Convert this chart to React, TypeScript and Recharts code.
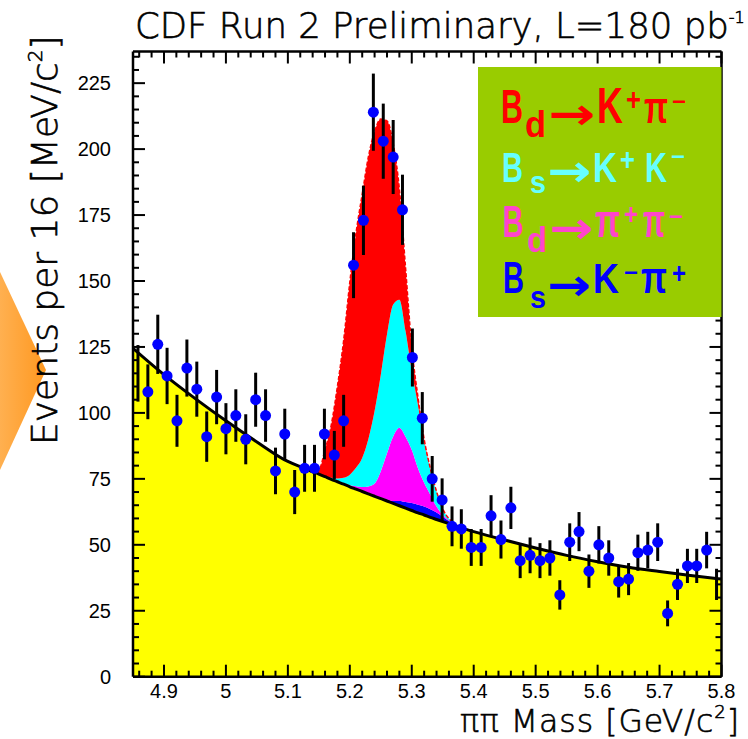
import React from 'react';
import { ComposedChart, Area, Line, Scatter, ErrorBar, XAxis, YAxis } from 'recharts';

// bin centres, 60 bins between 4.85 and 5.80 GeV/c^2
const binMass = [
  4.858, 4.874, 4.890, 4.905, 4.921, 4.937, 4.953, 4.969, 4.985, 5.000,
  5.016, 5.032, 5.048, 5.064, 5.080, 5.095, 5.111, 5.127, 5.143, 5.159,
  5.175, 5.190, 5.206, 5.222, 5.238, 5.254, 5.270, 5.285, 5.301, 5.317,
  5.333, 5.349, 5.365, 5.380, 5.396, 5.412, 5.428, 5.444, 5.460, 5.475,
  5.491, 5.507, 5.523, 5.539, 5.555, 5.570, 5.586, 5.602, 5.618, 5.634,
  5.650, 5.665, 5.681, 5.697, 5.713, 5.729, 5.745, 5.760, 5.776, 5.792,
];

const binCounts = [
  115, 108, 126, 114, 97, 117, 109, 91, 106, 94,
  99, 90, 105, 99, 78, 92, 70, 79, 79, 92,
  84, 97, 156, 173, 214, 203, 197, 177, 121, 98,
  75, 67, 57, 56, 49, 49, 61, 52, 64, 44,
  46, 44, 45, 31, 51, 55, 40, 50, 45, 36,
  37, 47, 48, 51, 24, 35, 42, 42, 48, 35,
];

// fit components
const fitMass = [
  4.85, 4.9, 4.95, 5.0, 5.05, 5.1, 5.12,
  5.14, 5.15, 5.16, 5.17, 5.18, 5.19, 5.2, 5.21, 5.22, 5.23, 5.24, 5.25, 5.26,
  5.27, 5.28, 5.29, 5.3, 5.31, 5.32, 5.33, 5.34, 5.35, 5.36, 5.37, 5.38,
  5.4, 5.45, 5.5, 5.55, 5.6, 5.65, 5.7, 5.75, 5.8,
];
const fitBackground = [
  124.5, 114.5, 105.5, 97, 89, 81.6, 79.6,
  77.7, 76.8, 75.8, 74.8, 73.9, 73.0, 72.0, 71.1, 70.2, 69.3, 68.4, 67.5, 66.6,
  65.7, 64.8, 63.9, 63.0, 62.1, 61.3, 60.4, 59.6, 58.8, 58.0, 57.2, 56.4,
  55.0, 51.8, 48.8, 46.0, 43.6, 41.5, 39.9, 38.4, 37.0,
];
const fitBsKpi = [
  0, 0, 0, 0, 0, 0, 0,
  0, 0, 0, 0, 0, 0, 0, 0.1, 0.1, 0.2, 0.3, 0.4, 0.6,
  0.9, 1.8, 2.3, 2.8, 3.1, 3.2, 3.1, 2.6, 1.8, 1.0, 0.4, 0.1,
  0, 0, 0, 0, 0, 0, 0, 0, 0,
];
const fitBdPipi = [
  0, 0, 0, 0, 0, 0, 0,
  0, 0, 0, 0.1, 0.2, 0.4, 0.6, 1.0, 1.6, 2.6, 4.5, 10, 17.5,
  24.5, 27.8, 24.8, 20.2, 13.8, 9, 5.5, 2.3, 0.8, 0.3, 0.1, 0,
  0, 0, 0, 0, 0, 0, 0, 0, 0,
];
const fitBsKK = [
  0, 0, 0, 0, 0, 0, 0,
  0, 0.1, 0.2, 0.5, 1.0, 2.0, 4.0, 7, 11, 18, 27.5, 36.5, 45,
  50, 48.5, 40, 30, 24, 15.5, 9.5, 5.5, 2.2, 0.6, 0.1, 0,
  0, 0, 0, 0, 0, 0, 0, 0, 0,
];
const fitBdKpi = [
  0, 0, 0, 0, 0, 0, 0,
  0, 1.5, 10, 20, 35, 52, 73, 89, 100, 107, 106, 97, 81,
  61, 42, 24, 9, 3, 1, 0.5, 0.2, 0, 0, 0, 0,
  0, 0, 0, 0, 0, 0, 0, 0, 0,
];

const xMajorTicks = [4.9, 5, 5.1, 5.2, 5.3, 5.4, 5.5, 5.6, 5.7, 5.8];
const yMajorTicks = [0, 25, 50, 75, 100, 125, 150, 175, 200, 225];

const xTicks: number[] = [];
for (let k = 486; k <= 580; k += 2) xTicks.push(k / 100);
const yTicks: number[] = [];
for (let v = 0; v <= 235; v += 5) yTicks.push(v);

// poisson errors on the counts
const points = binMass.map((m, i) => ({
  m,
  n: binCounts[i],
  err: Math.sqrt(binCounts[i]),
  edge: i === 0 || i === binMass.length - 1,
}));
const innerPoints = points.filter((p) => !p.edge);
const edgePoints = points.filter((p) => p.edge);

const fitData = fitMass.map((m, i) => ({
  m,
  bkg: fitBackground[i],
  bsKpi: fitBsKpi[i],
  bdPipi: fitBdPipi[i],
  bsKK: fitBsKK[i],
  bdKpi: fitBdKpi[i],
}));

const W = 748;
const H = 739;
const PL = 133;
const PR = 721.5;
const PT = 51.5;
const PB = 676.7;

const tickFont = "'Liberation Sans', Arial, sans-serif";
const labelFont = "'DejaVu Sans', sans-serif";
const legendFont = "'Liberation Sans Narrow', 'Liberation Sans', sans-serif";

const isMajor = (v: number, majors: number[]) => majors.some((t) => Math.abs(t - v) < 1e-6);

function BottomTick(props: any) {
  const x = props.payload.coordinate;
  const v = props.payload.value;
  const major = isMajor(v, xMajorTicks);
  return (
    <g>
      <line x1={x} x2={x} y1={PB} y2={PB - (major ? 12 : 6)} stroke="#000" strokeWidth={2} />
      {major && (
        <text x={x} y={697.8} textAnchor="middle" fontSize={20} fontFamily={tickFont} fill="#000">
          {String(v)}
        </text>
      )}
    </g>
  );
}

function TopTick(props: any) {
  const x = props.payload.coordinate;
  const major = isMajor(props.payload.value, xMajorTicks);
  return <line x1={x} x2={x} y1={PT} y2={PT + (major ? 12 : 6)} stroke="#000" strokeWidth={2} />;
}

function LeftTick(props: any) {
  const y = props.payload.coordinate;
  const v = props.payload.value;
  const major = isMajor(v, yMajorTicks);
  return (
    <g>
      <line x1={PL} x2={PL + (major ? 12 : 6)} y1={y} y2={y} stroke="#000" strokeWidth={2} />
      {major && (
        <text x={111} y={y} dy="0.35em" textAnchor="end" fontSize={20} fontFamily={tickFont} fill="#000">
          {String(v)}
        </text>
      )}
    </g>
  );
}

function RightTick(props: any) {
  const y = props.payload.coordinate;
  const major = isMajor(props.payload.value, yMajorTicks);
  return <line x1={PR} x2={PR - (major ? 12 : 6)} y1={y} y2={y} stroke="#000" strokeWidth={2} />;
}

const dot = (p: any) => <circle cx={p.cx} cy={p.cy} r={5.5} fill="#0000ff" />;
const noDot = () => <g />;

// legend glyphs: each piece sits at its own x/baseline, stretched upwards by sy
type Piece = { t: string; x: number; w: number; y: number; size: number; sy: number; arrow?: boolean };

const txt = (t: string, x: number, w: number, y: number, size: number, sy: number): Piece => ({ t, x, w, y, size, sy });
const sup = (t: string, x: number, w: number, mid: number, size: number, sy: number): Piece => ({
  t, x, w, y: mid + 0.35 * size * sy, size, sy,
});
const arrow = (x: number, w: number, mid: number): Piece => ({ t: '→', x, w, y: mid + 15.4, size: 44, sy: 1, arrow: true });

function LegendRow({ color, pieces }: { color: string; pieces: Piece[] }) {
  return (
    <g fill={color} fontWeight="bold">
      {pieces.map((p, i) => (
        <text
          key={i}
          transform={`translate(${p.x},${p.y}) scale(1,${p.sy})`}
          fontSize={p.size}
          fontFamily={p.arrow ? "'DejaVu Sans', sans-serif" : legendFont}
          textLength={p.w}
          lengthAdjust="spacingAndGlyphs"
        >
          {p.t}
        </text>
      ))}
    </g>
  );
}

export default function App() {
  const axisLine = { stroke: '#000', strokeWidth: 2.5 };
  const labelStyle = { fontFamily: labelFont, fontWeight: 300, fill: '#000', stroke: '#000', strokeWidth: 0.6 };
  return (
    <div style={{ position: 'absolute', left: 0, top: 0, width: W, height: H, background: '#fff' }}>
      <ComposedChart
        width={W}
        height={H}
        data={fitData}
        margin={{ top: PT - 1, right: W - PR - 1, bottom: H - PB - 1, left: PL - 1 }}
      >
        <XAxis
          dataKey="m"
          type="number"
          domain={[4.85, 5.8]}
          allowDataOverflow
          ticks={xTicks}
          interval={0}
          height={1}
          tickLine={false}
          axisLine={axisLine}
          tick={BottomTick}
        />
        <XAxis
          xAxisId="top"
          orientation="top"
          dataKey="m"
          type="number"
          domain={[4.85, 5.8]}
          allowDataOverflow
          ticks={xTicks}
          interval={0}
          height={1}
          tickLine={false}
          axisLine={axisLine}
          tick={TopTick}
        />
        <YAxis
          type="number"
          domain={[0, 237]}
          allowDataOverflow
          ticks={yTicks}
          interval={0}
          width={1}
          tickLine={false}
          axisLine={axisLine}
          tick={LeftTick}
        />
        <YAxis
          yAxisId="right"
          orientation="right"
          type="number"
          domain={[0, 237]}
          allowDataOverflow
          ticks={yTicks}
          interval={0}
          width={1}
          tickLine={false}
          axisLine={axisLine}
          tick={RightTick}
        />
        <Area type="monotone" dataKey="bkg" stackId="fit" fill="#ffff00" fillOpacity={1} stroke="none" isAnimationActive={false} />
        <Area type="monotone" dataKey="bsKpi" stackId="fit" fill="#0000ff" fillOpacity={1} stroke="none" isAnimationActive={false} />
        <Area type="monotone" dataKey="bdPipi" stackId="fit" fill="#ff00ff" fillOpacity={1} stroke="none" isAnimationActive={false} />
        <Area type="monotone" dataKey="bsKK" stackId="fit" fill="#00ffff" fillOpacity={1} stroke="none" isAnimationActive={false} />
        <Area
          type="monotone"
          dataKey="bdKpi"
          stackId="fit"
          fill="#ff0000"
          fillOpacity={1}
          stroke="#ff0000"
          strokeWidth={1.5}
          strokeDasharray="4 2"
          isAnimationActive={false}
        />
        <Line type="monotone" dataKey="bkg" stroke="#000" strokeWidth={3} dot={false} activeDot={false} isAnimationActive={false} />
        <Scatter data={edgePoints} dataKey="n" shape={noDot} isAnimationActive={false}>
          <ErrorBar dataKey="err" direction="y" width={0} stroke="#000" strokeWidth={3} isAnimationActive={false} />
        </Scatter>
        <Scatter data={innerPoints} dataKey="n" shape={dot} isAnimationActive={false}>
          <ErrorBar dataKey="err" direction="y" width={0} stroke="#000" strokeWidth={3} isAnimationActive={false} />
        </Scatter>
      </ComposedChart>

      <svg width={W} height={H} style={{ position: 'absolute', left: 0, top: 0, pointerEvents: 'none' }}>
        <defs>
          <linearGradient id="orange" x1="0" x2="1" y1="0" y2="0">
            <stop offset="0" stopColor="#ffb050" />
            <stop offset="1" stopColor="#ff9820" />
          </linearGradient>
        </defs>
        <polygon points="0,272 46,370 0,470" fill="url(#orange)" />

        <text x={135} y={38} fontSize={35.5} {...labelStyle}>
          CDF Run 2 Preliminary, L=180 pb
          <tspan dy={-15} fontSize={16}>-1</tspan>
        </text>

        <text transform="translate(57,445) rotate(-90)" fontSize={36} {...labelStyle}>
          Events per 16 [MeV/c
          <tspan dy={-15} fontSize={20}>2</tspan>
          <tspan dy={15}>]</tspan>
        </text>

        <text x={740} y={731.5} textAnchor="end" fontSize={31.5} letterSpacing={1} {...labelStyle}>
          ππ Mass [GeV/c
          <tspan dy={-14} fontSize={18}>2</tspan>
          <tspan dy={14}>]</tspan>
        </text>

        <rect x={478} y={67} width={PR - 478} height={250} fill="#99cc00" />
        <LegendRow
          color="#ff0000"
          pieces={[
            txt('B', 501, 22, 123, 36, 1.36),
            txt('d', 525, 21, 137, 34, 1.08),
            arrow(548, 47, 114),
            txt('K', 597, 26, 123, 38, 1.3),
            sup('+', 626, 15, 99, 24, 1.3),
            txt('π', 644, 24, 123, 36, 1.25),
            sup('−', 672, 14, 102, 22, 1.1),
          ]}
        />
        <LegendRow
          color="#66ffff"
          pieces={[
            txt('B', 502, 21, 182, 35, 1.2),
            txt('s', 530, 16, 193, 27, 1.14),
            arrow(547, 44, 171),
            txt('K', 593, 24, 182, 36, 1.17),
            sup('+', 620, 15, 159, 24, 1.3),
            txt('K', 645, 22, 182, 34, 1.24),
            sup('−', 671, 14, 157, 22, 1.1),
          ]}
        />
        <LegendRow
          color="#ff44cc"
          pieces={[
            txt('B', 502.5, 21, 237, 34, 1.31),
            txt('d', 527, 20, 252, 32, 1.12),
            arrow(549, 44, 228),
            txt('π', 595, 25, 237, 36, 1.27),
            sup('+', 624, 14, 214, 22, 1.35),
            txt('π', 643, 22, 237, 34, 1.35),
            sup('−', 669, 14, 217, 22, 1.1),
          ]}
        />
        <LegendRow
          color="#0000ff"
          pieces={[
            txt('B', 503, 21, 293, 35, 1.25),
            txt('s', 530, 16, 308, 27, 1.15),
            arrow(547, 44, 285),
            txt('K', 593, 26, 293, 38, 1.1),
            sup('−', 624, 14, 273, 22, 1.1),
            txt('π', 641, 26, 293, 38, 1.15),
            sup('+', 672, 14, 273, 22, 1.35),
          ]}
        />
      </svg>
    </div>
  );
}
